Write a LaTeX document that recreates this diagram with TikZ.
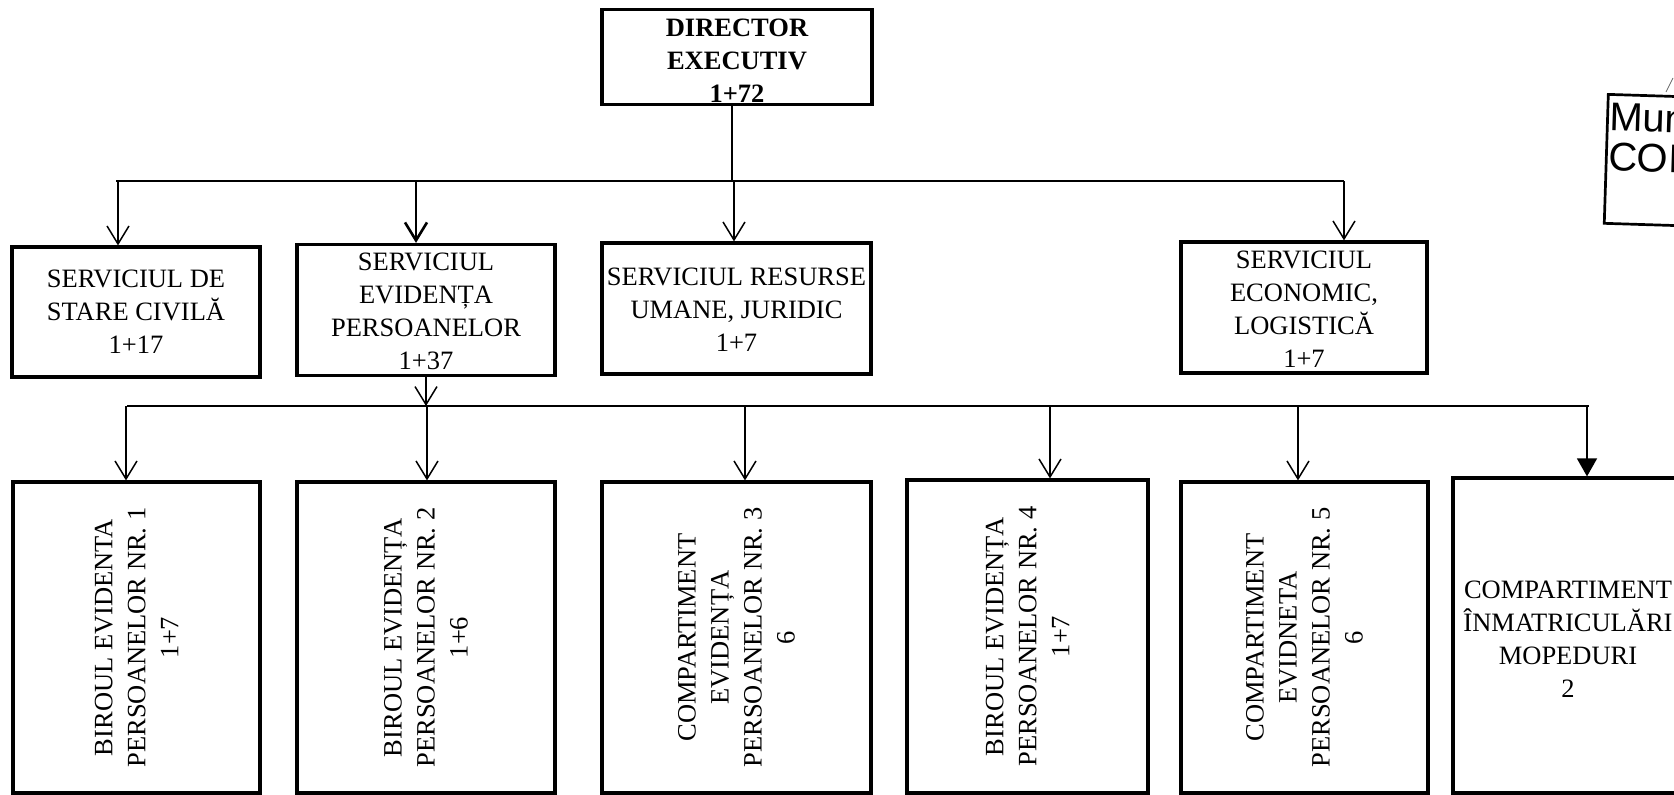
\documentclass[tikz,border=0pt]{standalone}
\usepackage{fontspec}
\setmainfont{Liberation Serif}
\newfontfamily\arialf{Liberation Sans}
\usetikzlibrary{arrows.meta}
\begin{document}
\begin{tikzpicture}[x=1pt,y=-1pt,
  box/.style={draw, line width=3.2pt, inner sep=0pt, rectangle},
  txt/.style={align=center, inner sep=0pt, font=\fontsize{26.5}{33}\selectfont},
  conn/.style={line width=1.8pt},
  arr/.style={line width=1.5pt, -{Straight Barb[length=18pt,width=22pt]}},
  arrf/.style={line width=1.5pt, -{Triangle[length=18pt,width=20pt]}}]

\useasboundingbox (0,0) rectangle (1674,795);
\clip (0,0) rectangle (1674,795);

% ---------- director ----------
\node[box, minimum width=270pt, minimum height=95pt] (dir) at (737,57) {};
\node[txt, font=\fontsize{26.5}{33}\selectfont\bfseries] (dirt) at (737,61) {DIRECTOR\\EXECUTIV\\1+72};

% ---------- second row ----------
\node[box, minimum width=248pt, minimum height=130pt] (B1) at (136,312) {};
\node[txt] (B1t) at (136,312) {SERVICIUL DE\\STARE CIVILĂ\\1+17};
\node[box, minimum width=258pt, minimum height=131pt] (B2) at (426,310) {};
\node[txt] (B2t) at (426,311) {SERVICIUL\\EVIDENȚA\\PERSOANELOR\\1+37};
\node[box, minimum width=269pt, minimum height=131pt] (B3) at (736.5,308.5) {};
\node[txt] (B3t) at (736.5,310) {SERVICIUL RESURSE\\UMANE, JURIDIC\\1+7};
\node[box, minimum width=246pt, minimum height=131pt] (B4) at (1304,307.5) {};
\node[txt] (B4t) at (1304,309) {SERVICIUL\\ECONOMIC,\\LOGISTICĂ\\1+7};

% ---------- third row ----------
\node[box, minimum width=247pt, minimum height=311pt] (C1) at (136.5,637.5) {};
\node[txt, rotate=90] (C1t) at (C1.center) {BIROUL EVIDENTA\\PERSOANELOR NR. 1\\1+7};
\node[box, minimum width=258pt, minimum height=311pt] (C2) at (426,637.5) {};
\node[txt, rotate=90] (C2t) at (C2.center) {BIROUL EVIDENȚA\\PERSOANELOR NR. 2\\1+6};
\node[box, minimum width=269pt, minimum height=311pt] (C3) at (736.5,637.5) {};
\node[txt, rotate=90] (C3t) at (C3.center) {COMPARTIMENT\\EVIDENȚA\\PERSOANELOR NR. 3\\6};
\node[box, minimum width=241pt, minimum height=313pt] (C4) at (1027.5,636.5) {};
\node[txt, rotate=90] (C4t) at (C4.center) {BIROUL EVIDENȚA\\PERSOANELOR NR. 4\\1+7};
\node[box, minimum width=247pt, minimum height=311pt] (C5) at (1304.5,637.5) {};
\node[txt, rotate=90] (C5t) at (C5.center) {COMPARTIMENT\\EVIDNETA\\PERSOANELOR NR. 5\\6};
\node[box, minimum width=230pt, minimum height=315pt] (C6) at (1568,635.5) {};
\node[txt] (C6t) at (1568,639) {COMPARTIMENT\\ÎNMATRICULĂRI\\MOPEDURI\\2};

% ---------- top bus ----------
\coordinate (t1) at (116,181);
\coordinate (t4) at (1344,181);
\coordinate (a1) at (118,181);
\coordinate (a2) at (416,181);
\coordinate (a3) at (734,181);
\coordinate (a4) at (1344,181);
\draw[conn] ([xshift=-5pt]dir.south) -- ([xshift=-5pt]dir.south |- t1);
\draw[conn] (t1) -- (t4);
\draw[arr] (a1) -- (a1 |- B1.north);
\draw[arr, line width=2.6pt] (a2) -- (a2 |- B2.north);
\draw[arr] (a3) -- (a3 |- B3.north);
\draw[arr] (a4) -- (a4 |- B4.north);

% ---------- lower bus ----------
\coordinate (r1) at (127,406);
\coordinate (r6) at (1589,406);
\coordinate (b1) at (126,406);
\coordinate (b2) at (427,406);
\coordinate (b3) at (745,406);
\coordinate (b4) at (1050,406);
\coordinate (b5) at (1298,406);
\coordinate (b6) at (1587,406);
\draw[arr] (B2.south) -- (B2.south |- r1);
\draw[conn] (r1) -- (r6);
\draw[arr] (b1) -- (b1 |- C1.north);
\draw[arr] (b2) -- (b2 |- C2.north);
\draw[arr] (b3) -- (b3 |- C3.north);
\draw[arr] (b4) -- (b4 |- C4.north);
\draw[arr] (b5) -- (b5 |- C5.north);
\draw[arrf] (b6) -- (b6 |- C6.north);

% ---------- cut-off box at the right ----------
\node[draw, line width=2.7pt, rotate=-1.8, anchor=north west, minimum width=220pt, minimum height=129pt, inner sep=0pt] (mun) at (1607,93) {};
\node[anchor=north west, rotate=-1.8, align=left, inner sep=0pt, font=\arialf\fontsize{40}{40}\selectfont] (munt) at (1610,103) {Mun\\CON};
\draw[line width=0.8pt, black!60] (1666,92) -- (1673,78);
\end{tikzpicture}
\end{document}
